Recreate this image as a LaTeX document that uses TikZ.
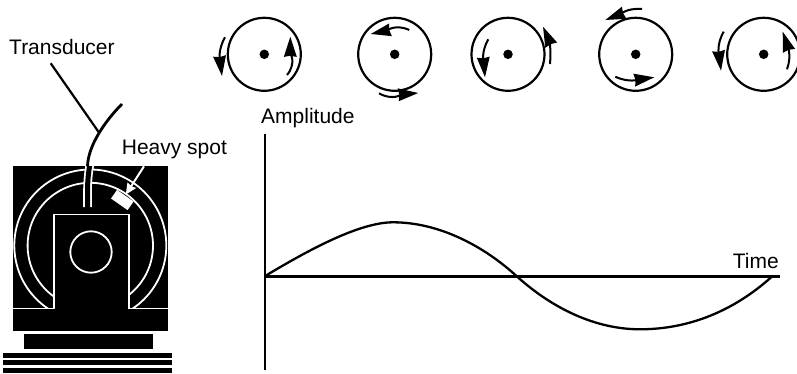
\documentclass[tikz,border=0pt]{standalone}
\usepackage{fontspec}
\setmainfont{Liberation Sans}
\usetikzlibrary{arrows.meta, positioning}

\begin{document}
\begin{tikzpicture}[
    x=1pt, y=-1pt,
    font=\fontsize{21}{25}\selectfont,
    lbl/.style={anchor=base west, inner sep=0pt},
    disc/.style={circle, draw=black, line width=2.2pt, minimum size=73pt, inner sep=0pt},
    dot/.style={circle, fill=black, minimum size=9.5pt, inner sep=0pt},
    spin/.style={line width=2pt, draw=black,
                 -{Stealth[length=20pt, width=12.5pt, inset=1pt]}},
    axis/.style={line width=2.4pt, draw=black},
    ring/.style={circle, draw=white, line width=1.8pt, inner sep=0pt},
    slab/.style={fill=black}
  ]
    \useasboundingbox (0,0) rectangle (797,374);

    % Labels
    \node[lbl] (transducer) at (9,55)      {Transducer};
    \node[lbl] (heavy)      at (121.7,155) {Heavy spot};
    \node[lbl] (amplitude)  at (261,124)   {Amplitude};
    \node[lbl, anchor=base east] (time) at (779,268) {Time};

    % Discs
    \node[disc] (discA) at (264.3,54.3) {};
    \node[disc] (discB) at (394.7,54.3) {};
    \node[disc] (discC) at (508,54.3)   {};
    \node[disc] (discD) at (635.7,54.3) {};
    \node[disc] (discE) at (763.7,54.3) {};
    \node[dot] (dotA) at (discA.center) {};
    \node[dot] (dotB) at (discB.center) {};
    \node[dot] (dotC) at (discC.center) {};
    \node[dot] (dotD) at (discD.center) {};
    \node[dot] (dotE) at (discE.center) {};

    % Rotation arrows
    \draw[spin] ([shift={(22.7,20.7)}]discA.center)  to[out=50, in=270]  ([shift={(26,-17.6)}]discA.center);
    \draw[spin] ([shift={(-39.3,-17)}]discA.center)  to[out=240, in=97]  ([shift={(-42.3,21.7)}]discA.center);
    \draw[spin] ([shift={(14.6,-24.3)}]discB.center) to[out=155, in=12]  ([shift={(-24,-20.3)}]discB.center);
    \draw[spin] ([shift={(-15.7,39)}]discB.center)   to[out=-30, in=185] ([shift={(23.6,38.7)}]discB.center);
    \draw[spin] ([shift={(-19.7,-15)}]discC.center)  to[out=240, in=95]  ([shift={(-23,23)}]discC.center);
    \draw[spin] ([shift={(42,9.7)}]discC.center)     to[out=85, in=294]  ([shift={(35,-27.6)}]discC.center);
    \draw[spin] ([shift={(6.3,-45.3)}]discD.center)  to[out=175, in=21]  ([shift={(-30.4,-34.3)}]discD.center);
    \draw[spin] ([shift={(-20.4,22.4)}]discD.center) to[out=-25, in=188] ([shift={(18.6,23)}]discD.center);
    \draw[spin] ([shift={(-40,-22.6)}]discE.center)  to[out=240, in=97]  ([shift={(-42.7,16.4)}]discE.center);
    \draw[spin] ([shift={(23.3,15)}]discE.center)    to[out=70, in=288]  ([shift={(19,-22.6)}]discE.center);

    % Graph
    \coordinate (axtop)   at (264.7,134);
    \coordinate (axbot)   at (264.7,370);
    \coordinate (origin)  at (264.7,276.3);
    \coordinate (axend)   at (779.7,276.3);
    \coordinate (crest)   at (393,222.3);
    \coordinate (cross)   at (517,276.5);
    \coordinate (trough)  at (640,329.3);
    \coordinate (waveend) at (772,276.5);
    \draw[axis] (axtop) -- (axbot);
    \draw[axis] (origin) -- (axend);
    \draw[axis, line width=2.3pt] (origin) .. controls (310,249) and (360,222.3) .. (crest)
        .. controls (440,222.3) and (485,247) .. (cross)
        .. controls (552,308) and (595,329.3) .. (trough)
        .. controls (690,329.3) and (735,310) .. (waveend);

    % Machine
    \fill[slab] (13,166.3) rectangle (168,330.7);
    \fill[slab] (24.3,334) rectangle (153.3,349.3);
    \fill[slab] (3.3,353.3) rectangle (172.3,357.7);
    \fill[slab] (3.3,360) rectangle (172.3,365.3);
    \fill[slab] (3.3,368.3) rectangle (172.3,373);
    \begin{scope}
      \clip (13,166.3) rectangle (168,308.5);
      \node[ring, minimum size=152pt]   (outer) at (90.3,245.5) {};
      \node[ring, minimum size=125.4pt] (inner) at (90.3,245.5) {};
    \end{scope}
    \fill[slab] (53.8,214.5) rectangle (129,312);
    \draw[draw=white, line width=1.8pt] (13,308.5) -- (53.8,308.5) -- (53.8,214.5)
        -- (129,214.5) -- (129,308.5) -- (168,308.5);
    \node[ring, minimum size=41.4pt] (bore) at (91,252) {};

    % Heavy spot
    \node[fill=white, rotate=-35, minimum width=20.2pt, minimum height=10.5pt,
          inner sep=0pt] (spot) at (122.3,200) {};
    \coordinate (spotfrom) at (144,166.3);
    \draw[draw=white, line width=2pt, shorten >=1pt,
          -{Stealth[length=11pt, width=10pt, inset=1pt]}] (spotfrom) -- (spot);

    % Cable
    \coordinate (cabletop) at (122,104);
    \coordinate (cableend) at (87.5,207);
    \coordinate (joint)    at (99.3,133);
    \coordinate (leadtop)  at (50.7,63.3);
    \begin{scope}
      \clip (13,166.3) rectangle (168,330.7);
      \draw[white, line width=8.6pt] (cabletop) .. controls (106,120) and (88,145) .. (87.5,190) -- (cableend);
      \draw[black, line width=5pt] (cabletop) .. controls (106,120) and (88,145) .. (87.5,190) -- ([yshift=-2pt]cableend);
    \end{scope}
    \draw[black, line width=2.8pt] (cabletop) .. controls (106,120) and (88,145) .. (87.5,166.5);
    \draw[black, line width=2.2pt] (leadtop) -- (joint);
\end{tikzpicture}
\end{document}
